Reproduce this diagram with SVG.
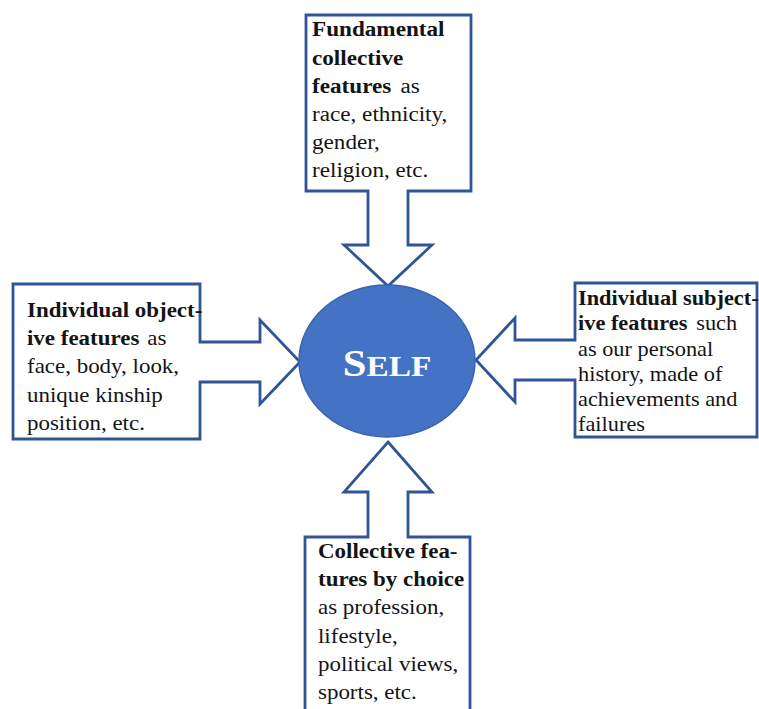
<svg xmlns="http://www.w3.org/2000/svg" width="759" height="709" viewBox="0 0 759 709">
  <style>
    .callout { fill: #ffffff; stroke: #2f5597; stroke-width: 2.8; stroke-linejoin: miter; }
    .txt { font-family: "Liberation Serif", "Times New Roman", serif; font-size: 20.5px; fill: #141414; }
    .b { font-weight: bold; }
    .self { font-family: "Liberation Serif", "Times New Roman", serif; font-weight: bold; fill: #ffffff; }
  </style>
  <rect width="759" height="709" fill="#ffffff"/>

  <!-- callout shapes: box plus block arrow pointing at the centre -->
  <g id="connectors">
    <path id="arrow-top" class="callout" d="M306,15 H471 V191 H408 V245 H432 L388,286 L344,245 H368 V191 H306 Z"/>
    <path id="arrow-left" class="callout" d="M13,284 H200 V342 H260 V320 L300,362 L260,404 V382 H200 V439 H13 Z"/>
    <path id="arrow-right" class="callout" d="M757,283 H575 V340 H515 V318 L476,360 L515,402 V380 H575 V437 H757 Z"/>
    <path id="arrow-bottom" class="callout" d="M388,442 L432,492 H408 V537 H470 V715 H305 V537 H368 V492 H344 Z"/>
  </g>

  <!-- central node -->
  <g id="self">
    <ellipse cx="387" cy="361" rx="88" ry="76" fill="#4472c4" stroke="#3a63ad" stroke-width="1.5"/>
    <text class="self" transform="translate(387,376) scale(1.15,1)" text-anchor="middle"><tspan font-size="37">S</tspan><tspan font-size="29">ELF</tspan></text>
  </g>

  <!-- top box text -->
  <g id="fundamental-collective" class="txt" transform="translate(312,0) scale(1.13,1)">
    <text x="0" y="36" class="b">Fundamental</text>
    <text x="0" y="65" class="b">collective</text>
    <text x="0" y="93"><tspan class="b">features</tspan> <tspan dx="3">as</tspan></text>
    <text x="0" y="121">race, ethnicity,</text>
    <text x="0" y="149">gender,</text>
    <text x="0" y="177">religion, etc.</text>
  </g>

  <!-- left box text -->
  <g id="individual-objective" class="txt" transform="translate(27,0) scale(1.12,1)">
    <text x="0" y="317" class="b">Individual object-</text>
    <text x="0" y="345"><tspan class="b">ive features</tspan> <tspan dx="2">as</tspan></text>
    <text x="0" y="373">face, body, look,</text>
    <text x="0" y="402">unique kinship</text>
    <text x="0" y="430">position, etc.</text>
  </g>

  <!-- right box text -->
  <g id="individual-subjective" class="txt" transform="translate(578,0) scale(1.09,1)">
    <text x="0" y="305" class="b">Individual subject-</text>
    <text x="0" y="330"><tspan class="b">ive features</tspan> <tspan dx="3">such</tspan></text>
    <text x="0" y="356">as our personal</text>
    <text x="0" y="381">history, made of</text>
    <text x="0" y="406">achievements and</text>
    <text x="0" y="431">failures</text>
  </g>

  <!-- bottom box text -->
  <g id="collective-choice" class="txt" transform="translate(318,0) scale(1.12,1)">
    <text x="0" y="558" class="b">Collective fea-</text>
    <text x="0" y="586" class="b">tures by choice</text>
    <text x="0" y="614">as profession,</text>
    <text x="0" y="643">lifestyle,</text>
    <text x="0" y="671">political views,</text>
    <text x="0" y="699">sports, etc.</text>
  </g>
</svg>
